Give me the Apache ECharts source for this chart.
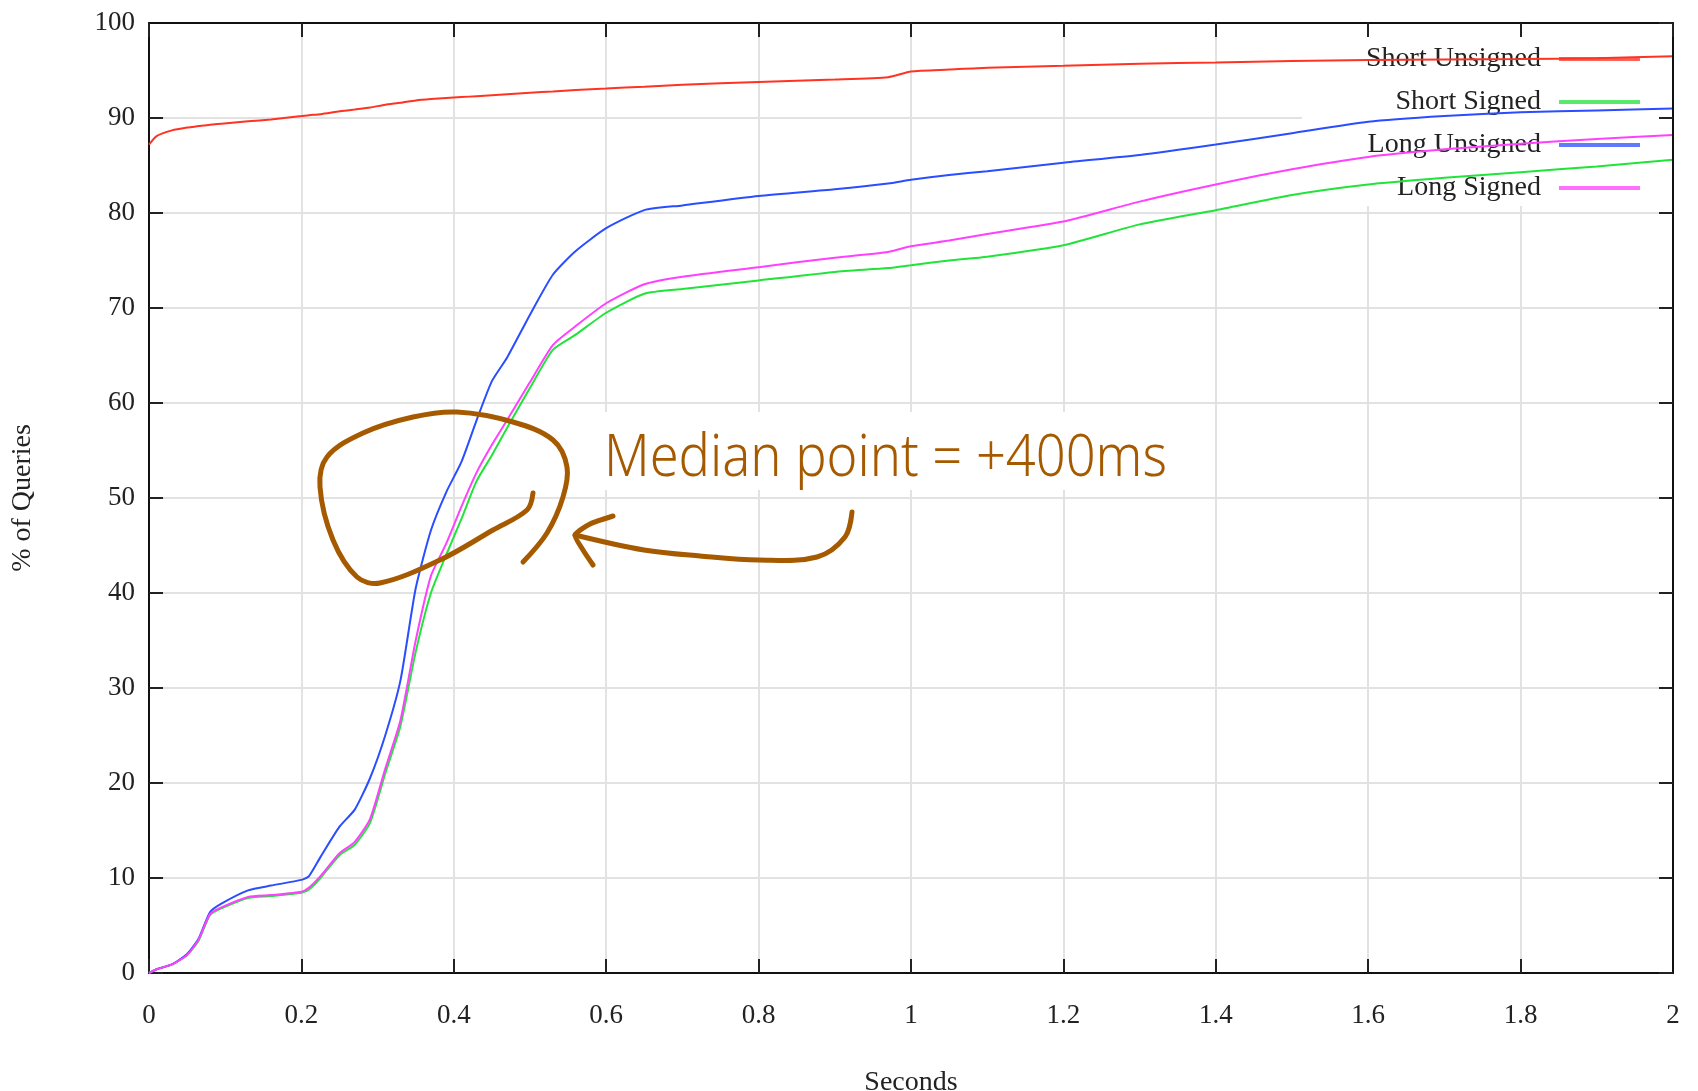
<!DOCTYPE html>
<html>

<head>
    <meta charset="UTF-8" />
    <script src="https://cdn.jsdelivr.net/npm/echarts@6/dist/echarts.min.js"></script>
</head>

<body style="margin: 0; overflow: hidden; background: #fff;">
    <div id="chart" style="width: 1698px; height: 1091px;"></div>
    <script type="text/javascript">

        // x values (seconds), shared by all four curves
        const seconds = [0, 0.01, 0.03, 0.05, 0.065, 0.08, 0.095, 0.13, 0.16, 0.2, 0.21, 0.225, 0.25, 0.27, 0.29,
            0.31, 0.33, 0.35, 0.37, 0.39, 0.41, 0.43, 0.45, 0.47, 0.5, 0.53, 0.56, 0.6, 0.65, 0.7, 0.8, 0.9, 0.97,
            1.0, 1.05, 1.1, 1.2, 1.3, 1.4, 1.5, 1.6, 1.7, 1.8, 1.9, 2.0];

        // % of queries
        const shortUnsigned = [87.2, 88.1, 88.7, 89.0, 89.15, 89.3, 89.4, 89.65, 89.85, 90.2, 90.3, 90.4, 90.7, 90.9, 91.1,
            91.4, 91.6, 91.85, 92.0, 92.1, 92.2, 92.3, 92.4, 92.5, 92.65, 92.8, 92.95, 93.1, 93.3, 93.5, 93.8, 94.05, 94.3,
            94.9, 95.1, 95.3, 95.5, 95.7, 95.85, 96.0, 96.1, 96.15, 96.2, 96.3, 96.5];
        const shortSigned = [0, 0.4, 0.9, 1.9, 3.4, 6.1, 6.8, 7.9, 8.1, 8.45, 8.8, 10.0, 12.4, 13.5, 15.8,
            21.0, 26.0, 33.8, 40.0, 44.0, 47.8, 51.8, 54.5, 57.4, 61.6, 65.6, 67.2, 69.5, 71.5, 72.0, 72.9, 73.8, 74.2,
            74.5, 75.0, 75.4, 76.6, 78.8, 80.3, 81.9, 83.0, 83.7, 84.3, 84.9, 85.6];
        const longUnsigned = [0, 0.4, 0.9, 2.0, 3.6, 6.4, 7.3, 8.7, 9.2, 9.8, 10.2, 12.2, 15.4, 17.2, 20.5,
            25.0, 30.8, 40.5, 46.6, 50.6, 53.8, 58.2, 62.3, 64.8, 69.3, 73.5, 76.0, 78.4, 80.3, 80.8, 81.8, 82.5, 83.1,
            83.5, 84.0, 84.4, 85.3, 86.1, 87.2, 88.4, 89.6, 90.2, 90.6, 90.8, 91.0];
        const longSigned = [0, 0.4, 0.9, 1.9, 3.5, 6.2, 6.9, 8.0, 8.2, 8.55, 9.0, 10.2, 12.6, 13.8, 16.2,
            21.5, 26.6, 35.0, 41.8, 45.2, 49.1, 52.7, 55.6, 58.2, 62.2, 66.1, 68.1, 70.5, 72.5, 73.3, 74.3, 75.3, 75.9,
            76.5, 77.1, 77.8, 79.1, 81.2, 83.0, 84.6, 85.9, 86.7, 87.3, 87.8, 88.2];

        const seriesNames = ['Short Unsigned', 'Short Signed', 'Long Unsigned', 'Long Signed'];
        const seriesValues = [shortUnsigned, shortSigned, longUnsigned, longSigned];
        const seriesColors = ['#ff3322', '#22e33a', '#2a4dff', '#ff40ff'];

        const noteText = 'Median point = +400ms';

        const serif = 'Liberation Serif';
        const brown = '#a65a00';

        const chart = echarts.init(document.getElementById('chart'));

        const tick = { show: true, inside: true, length: 14, lineStyle: { color: '#222', width: 2 } };
        const axisLine = { show: true, onZero: false, lineStyle: { color: '#111', width: 2 } };
        const grid = { show: true, lineStyle: { color: '#e2e2e2', width: 2 } };

        // width of the hand written note, squeeze text to fit
        const ctx = document.createElement('canvas').getContext('2d');
        ctx.font = '300 58px "Noto Sans"';
        const noteScale = 563 / ctx.measureText(noteText).width;

        const option = {
            animation: false,
            grid: { left: 149, right: 25, top: 23, bottom: 118, outerBoundsMode: 'none', containLabel: false },
            legend: {
                orient: 'vertical',
                align: 'right',
                right: 25,
                top: 23,
                z: 1,
                padding: [22, 33, 4, 64],
                backgroundColor: '#fff',
                itemGap: 15,
                itemWidth: 81,
                itemHeight: 4,
                icon: 'rect',
                selectedMode: false,
                itemStyle: { opacity: 0.75 },
                textStyle: { fontFamily: serif, fontSize: 28, color: '#222', padding: [0, 13, 0, 0] },
                data: seriesNames
            },
            xAxis: [
                {
                    type: 'value', min: 0, max: 2, interval: 0.2, position: 'bottom',
                    axisLine: axisLine, axisTick: tick, splitLine: grid,
                    axisLabel: { fontFamily: serif, fontSize: 27, color: '#222', margin: 29 },
                    name: 'Seconds', nameLocation: 'middle', nameGap: 96,
                    nameTextStyle: { fontFamily: serif, fontSize: 28, color: '#222' }
                },
                {
                    type: 'value', min: 0, max: 2, interval: 0.2, position: 'top', z: 5,
                    axisLine: axisLine, axisTick: tick, splitLine: { show: false }, axisLabel: { show: false }
                }
            ],
            yAxis: [
                {
                    type: 'value', min: 0, max: 100, interval: 10, position: 'left',
                    axisLine: axisLine, axisTick: tick, splitLine: grid,
                    axisLabel: { fontFamily: serif, fontSize: 27, color: '#222', margin: 14 },
                    name: '% of Queries', nameLocation: 'middle', nameGap: 112,
                    nameTextStyle: { fontFamily: serif, fontSize: 28, color: '#222' }
                },
                {
                    type: 'value', min: 0, max: 100, interval: 10, position: 'right', z: 5,
                    axisLine: axisLine, axisTick: tick, splitLine: { show: false }, axisLabel: { show: false }
                }
            ],
            series: seriesNames.map((name, k) => ({
                name: name,
                type: 'line',
                xAxisIndex: 0,
                yAxisIndex: 0,
                z: 3,
                symbol: 'none',
                showSymbol: false,
                smooth: 0.2,
                lineStyle: { color: seriesColors[k], width: 2 },
                itemStyle: { color: seriesColors[k] },
                data: seconds.map((s, i) => [s, seriesValues[k][i]])
            })),
            graphic: [
                {
                    type: 'rect', z: 1, silent: true,
                    shape: { x: 601, y: 412, width: 572, height: 78 },
                    style: { fill: '#fff' }
                },
                {
                    type: 'text', z: 10, silent: true,
                    x: 604, y: 459, scaleX: noteScale,
                    style: {
                        text: noteText, fill: brown, fontFamily: 'Noto Sans', fontWeight: 300, fontSize: 58,
                        align: 'left', verticalAlign: 'middle'
                    }
                },
                {
                    // loop round the median point
                    type: 'polyline', z: 10, silent: true,
                    shape: {
                        smooth: 0.35,
                        points: [[533, 493], [527, 510], [493, 530], [440, 560], [380, 583], [357, 577], [333, 540],
                            [320, 487], [327, 457], [363, 433], [413, 417], [457, 412], [513, 422], [553, 440],
                            [567, 467], [563, 497], [547, 533], [523, 562]]
                    },
                    style: { stroke: brown, lineWidth: 5, fill: null, lineCap: 'round', lineJoin: 'round' }
                },
                {
                    type: 'polyline', z: 10, silent: true,
                    shape: {
                        smooth: 0.35,
                        points: [[852, 512], [845, 537], [817, 557], [759, 560], [700, 556], [644, 550], [575, 535]]
                    },
                    style: { stroke: brown, lineWidth: 5, fill: null, lineCap: 'round', lineJoin: 'round' }
                },
                {
                    type: 'polyline', z: 10, silent: true,
                    shape: { smooth: 0.2, points: [[613, 516], [590, 524], [575, 535], [583, 550], [593, 565]] },
                    style: { stroke: brown, lineWidth: 5, fill: null, lineCap: 'round', lineJoin: 'round' }
                }
            ]
        };

        chart.setOption(option);

    </script>
</body>

</html>
